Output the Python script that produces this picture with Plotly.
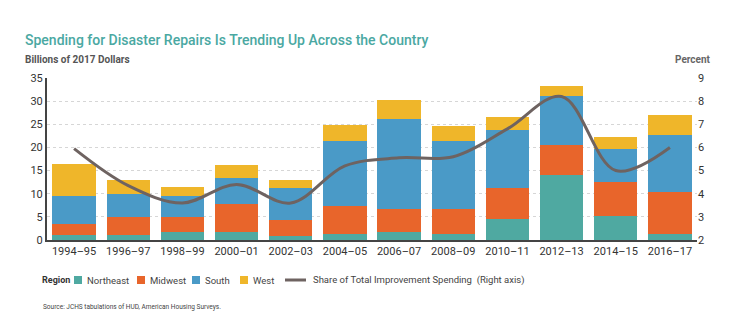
import plotly.graph_objects as go

periods = ["1994–95", "1996–97", "1998–99", "2000–01", "2002–03", "2004–05",
           "2006–07", "2008–09", "2010–11", "2012–13", "2014–15", "2016–17"]
northeast = [1.0, 1.0, 1.8, 1.8, 0.9, 1.3, 1.7, 1.2, 4.5, 14.0, 5.2, 1.2]
midwest = [2.5, 3.9, 3.1, 6.0, 3.5, 6.1, 4.9, 5.6, 6.7, 6.5, 7.4, 9.1]
south = [5.9, 5.0, 4.6, 5.7, 6.9, 13.9, 19.5, 14.6, 12.6, 10.6, 7.0, 12.3]
west = [7.1, 3.1, 1.9, 2.6, 1.7, 3.6, 4.1, 3.2, 2.8, 2.2, 2.7, 4.5]
share = [5.95, 4.35, 3.6, 4.4, 3.6, 5.2, 5.55, 5.6, 6.8, 8.2, 5.0, 6.0]

region_names = ["Northeast", "Midwest", "South", "West"]
line_name = "Share of Total Improvement Spending  (Right axis)"
colors = {"Northeast": "#4fa9a1", "Midwest": "#e8652b", "South": "#4a9ac7", "West": "#efb62a"}
line_color = "#6e6361"
font_family = "Roboto, Arial, sans-serif"

# plot area in pixels
L, R, T, B = 47, 697, 78, 240
W, H = R - L, B - T
def px(x):
    return (x - L) / W
def py(y):
    return (B - y) / H

fig = go.Figure()
for name, vals in zip(region_names, [northeast, midwest, south, west]):
    fig.add_trace(go.Bar(x=periods, y=vals, name=name, marker_color=colors[name],
                         marker_line_width=0, showlegend=False))
fig.add_trace(go.Scatter(x=periods, y=share, yaxis="y2", mode="lines",
                         line=dict(color=line_color, width=3, shape="spline", smoothing=1.0),
                         name=line_name, showlegend=False))

fig.update_layout(
    width=740, height=322,
    barmode="stack", bargap=0.2,
    plot_bgcolor="white", paper_bgcolor="white",
    margin=dict(l=L, r=740 - R, t=T, b=322 - B),
    font=dict(family=font_family, size=11, color="#333333"),
    xaxis=dict(range=[-0.5, 11.5], showline=True, linecolor="#444444", linewidth=2,
               ticks="", tickfont=dict(size=11, color="#333333"), showgrid=False),
    yaxis=dict(range=[0, 35], dtick=5, showline=True, linecolor="#444444", linewidth=2,
               showgrid=True, gridcolor="#d6d6d6", griddash="dot", gridwidth=1,
               zeroline=False, tickfont=dict(size=11, color="#333333"), ticks=""),
    yaxis2=dict(range=[2, 9], dtick=1, overlaying="y", side="right", showgrid=False,
                zeroline=False, showline=False, tickfont=dict(size=11, color="#333333")),
    showlegend=False,
)

fig.add_annotation(text="Spending for Disaster Repairs Is Trending Up Across the Country",
                   xref="paper", yref="paper", x=px(23), y=py(40), xanchor="left", yanchor="middle",
                   showarrow=False, font=dict(size=14, color="#4aa8a2", family=font_family, weight=500))
fig.add_annotation(text="<b>Billions of 2017 Dollars</b>", xref="paper", yref="paper",
                   x=px(23), y=py(60), xanchor="left", yanchor="middle", showarrow=False,
                   font=dict(size=10, color="#555555"))
fig.add_annotation(text="<b>Percent</b>", xref="paper", yref="paper",
                   x=px(693), y=py(60), xanchor="center", yanchor="middle", showarrow=False,
                   font=dict(size=10, color="#666666"))
fig.add_annotation(text="Source: JCHS tabulations of HUD, American Housing Surveys.",
                   xref="paper", yref="paper", x=px(41), y=py(307), xanchor="left", yanchor="middle",
                   showarrow=False, font=dict(size=6.5, color="#444444"))

# manual legend
ly = 280
fig.add_annotation(text="<b>Region</b>", xref="paper", yref="paper", x=px(40), y=py(ly),
                   xanchor="left", yanchor="middle", showarrow=False,
                   font=dict(size=9, color="#333333"))
box_x = [74, 137, 192, 240]
for name, bx in zip(region_names, box_x):
    fig.add_shape(type="rect", xref="paper", yref="paper",
                  x0=px(bx), x1=px(bx + 8), y0=py(ly + 4), y1=py(ly - 4),
                  fillcolor=colors[name], line_width=0)
    fig.add_annotation(text=name, xref="paper", yref="paper", x=px(bx + 11), y=py(ly),
                       xanchor="left", yanchor="middle", showarrow=False,
                       font=dict(size=9.5, color="#444444"))
fig.add_shape(type="line", xref="paper", yref="paper", x0=px(285), x1=px(306),
              y0=py(ly), y1=py(ly), line=dict(color=line_color, width=3))
fig.add_annotation(text=line_name, xref="paper", yref="paper", x=px(311), y=py(ly),
                   xanchor="left", yanchor="middle", showarrow=False,
                   font=dict(size=9.5, color="#444444"))

fig.write_html("out.html")
